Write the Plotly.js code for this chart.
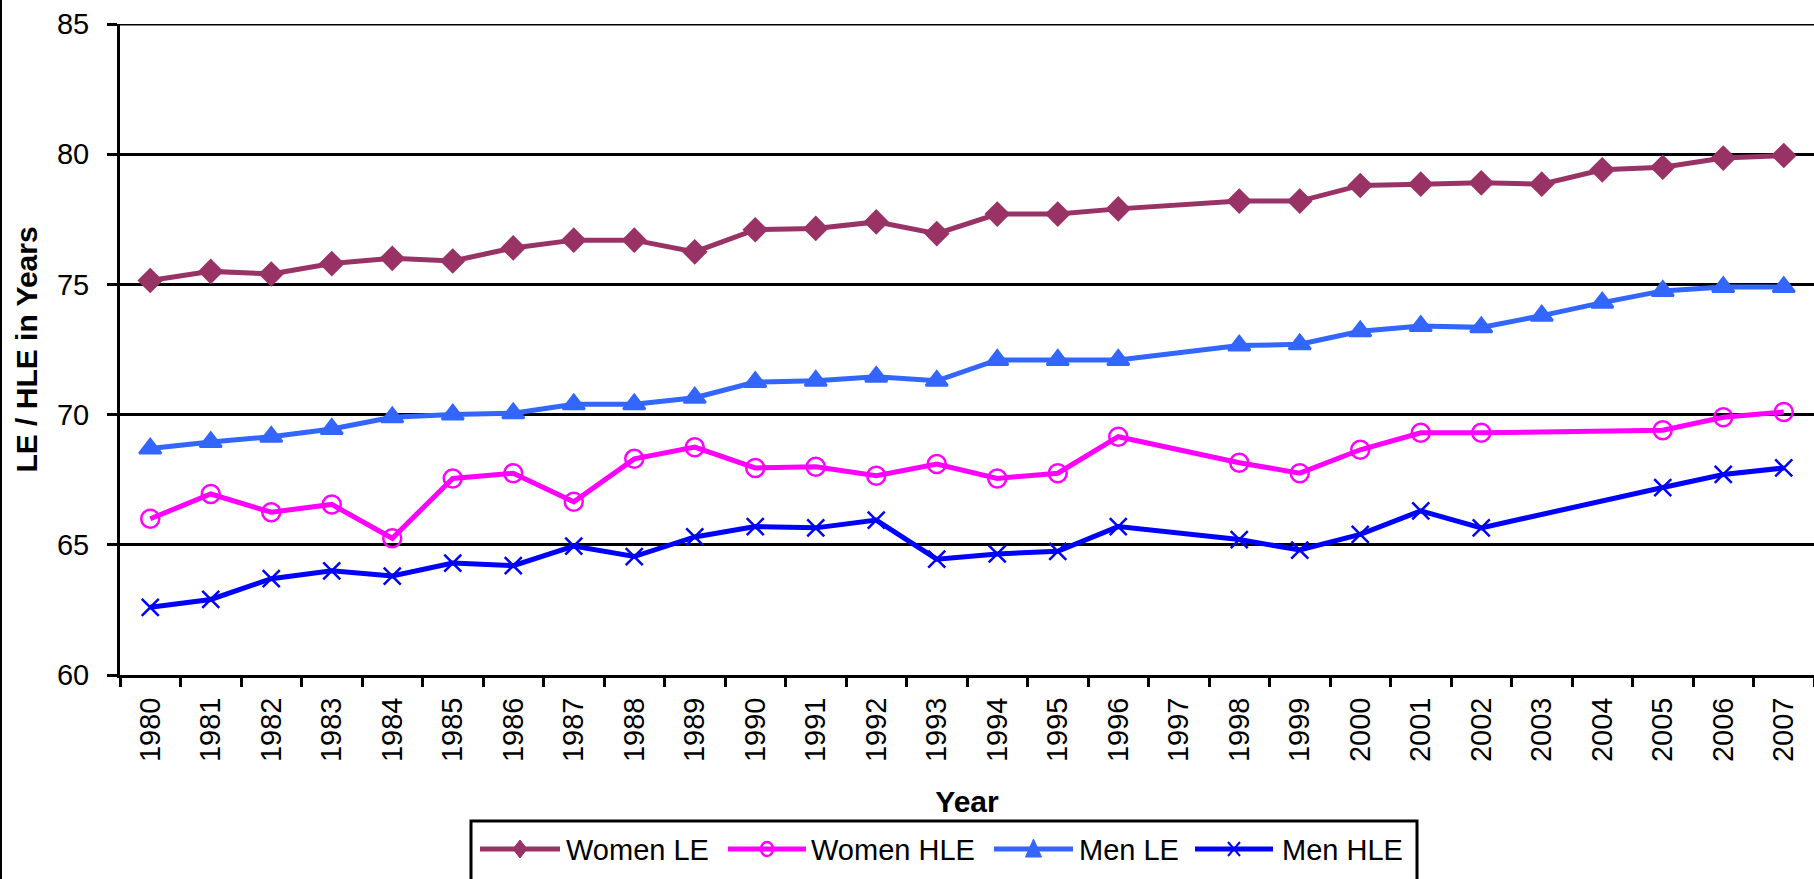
<!DOCTYPE html>
<html>
<head>
<meta charset="utf-8">
<script src="https://cdn.plot.ly/plotly-3.0.1.min.js"></script>
<style>
  html, body { margin: 0; padding: 0; background: #ffffff; }
  #chart { width: 1814px; height: 879px; }
</style>
</head>
<body>
<div id="chart"></div>
<script>
// ---- data ----
const years = ['1980','1981','1982','1983','1984','1985','1986','1987','1988','1989',
               '1990','1991','1992','1993','1994','1995','1996','1997','1998','1999',
               '2000','2001','2002','2003','2004','2005','2006','2007'];
const seriesNames = ['Women LE', 'Women HLE', 'Men LE', 'Men HLE'];
const womenLE  = [75.15, 75.5, 75.4, 75.8, 76.0, 75.9, 76.4, 76.7, 76.7, 76.25,
                  77.1, 77.15, 77.4, 76.95, 77.7, 77.7, 77.9, null, 78.2, 78.2,
                  78.8, 78.85, 78.9, 78.85, 79.4, 79.5, 79.85, 79.95];
const womenHLE = [66.0, 66.95, 66.25, 66.55, 65.25, 67.55, 67.75, 66.65, 68.3, 68.75,
                  67.95, 68.0, 67.65, 68.1, 67.55, 67.75, 69.15, null, 68.15, 67.75,
                  68.65, 69.3, 69.3, null, null, 69.4, 69.9, 70.1];
const menLE    = [68.7, 68.95, 69.15, 69.45, 69.9, 70.0, 70.05, 70.4, 70.4, 70.65,
                  71.25, 71.3, 71.45, 71.3, 72.1, 72.1, 72.1, null, 72.65, 72.7,
                  73.2, 73.4, 73.35, 73.8, 74.3, 74.75, 74.9, 74.9];
const menHLE   = [62.6, 62.9, 63.7, 64.0, 63.8, 64.3, 64.2, 64.95, 64.55, 65.3,
                  65.7, 65.65, 65.95, 64.45, 64.65, 64.75, 65.7, null, 65.2, 64.8,
                  65.4, 66.3, 65.65, null, null, 67.2, 67.7, 67.95];
const yTicks = [60, 65, 70, 75, 80, 85];
const xTitle = 'Year';
const yTitle = 'LE / HLE in Years';

// ---- styles ----
const values  = [womenLE, womenHLE, menLE, menHLE];
const colors  = ['#993366', '#FF00FF', '#3366FF', '#0000FF'];
const symbols = ['diamond', 'circle-open', 'triangle-up', 'x-thin-open'];
const msizes  = [17, 18, 19, 17];
const FONT = 'Arial, "Liberation Sans", sans-serif';

const traces = values.map((v, i) => ({
  type: 'scatter', mode: 'lines+markers', name: seriesNames[i],
  x: years, y: v, connectgaps: true, showlegend: false,
  line: { color: colors[i], width: 5 },
  marker: { symbol: symbols[i], size: msizes[i], color: colors[i],
            line: { color: colors[i], width: 2.5 } },
  cliponaxis: false
}));

// ---- geometry of the plot area (pixels) ----
const M = { l: 120, r: 0, t: 24, b: 204 };
const PW = 1814 - M.l - M.r, PH = 879 - M.t - M.b;
const xp = px => (px - M.l) / PW;
const yp = py => (879 - M.b - py) / PH;

// ---- hand-drawn legend (Excel style) ----
const legBox = { x0: 471, x1: 1417, y0: 821, y1: 900 };
const legY = 849;
const legItems = [ { s: 480, e: 560, t: 564 }, { s: 728, e: 806, t: 809 },
                   { s: 994, e: 1073, t: 1077 }, { s: 1195, e: 1273, t: 1280 } ];
const shapes = [
  // chart-area border on the left edge
  { type: 'line', xref: 'paper', yref: 'paper', x0: xp(1), x1: xp(1), y0: yp(0), y1: yp(879),
    line: { color: '#000', width: 2 } },
  // top gridline (at the range end, not drawn by Plotly itself)
  { type: 'line', xref: 'paper', yref: 'y', x0: 0, x1: 1, y0: yTicks[yTicks.length - 1],
    y1: yTicks[yTicks.length - 1], line: { color: '#000', width: 3 } },
  { type: 'rect', xref: 'paper', yref: 'paper', x0: xp(legBox.x0), x1: xp(legBox.x1),
    y0: yp(legBox.y0), y1: yp(legBox.y1), line: { color: '#000', width: 3 }, fillcolor: 'rgba(0,0,0,0)' }
];
const annotations = [];
legItems.forEach((it, i) => {
  shapes.push({ type: 'line', xref: 'paper', yref: 'paper', x0: xp(it.s), x1: xp(it.e),
    y0: yp(legY), y1: yp(legY), line: { color: colors[i], width: 5 } });
  const cx = xp((it.s + it.e) / 2), cy = yp(legY);
  const base = { xref: 'paper', yref: 'paper', xsizemode: 'pixel', ysizemode: 'pixel',
                 xanchor: cx, yanchor: cy };
  if (symbols[i] === 'diamond') {
    shapes.push(Object.assign({ type: 'path', path: 'M-7,0L0,9L7,0L0,-9Z',
      fillcolor: colors[i], line: { color: colors[i], width: 1 } }, base));
  } else if (symbols[i] === 'circle-open') {
    shapes.push(Object.assign({ type: 'circle', x0: -6, x1: 6, y0: -7, y1: 7,
      fillcolor: 'rgba(0,0,0,0)', line: { color: colors[i], width: 2.5 } }, base));
  } else if (symbols[i] === 'triangle-up') {
    shapes.push(Object.assign({ type: 'path', path: 'M-8,-8L8,-8L0,10Z',
      fillcolor: colors[i], line: { color: colors[i], width: 1 } }, base));
  } else {
    shapes.push(Object.assign({ type: 'path', path: 'M-6,-7L6,7M-6,7L6,-7',
      line: { color: colors[i], width: 2 } }, base));
  }
  annotations.push({ xref: 'paper', yref: 'paper', x: xp(it.t), y: yp(legY + 1),
    xanchor: 'left', yanchor: 'middle', showarrow: false, text: seriesNames[i],
    font: { family: FONT, size: 29, color: '#000' } });
});

const layout = {
  width: 1814, height: 879,
  margin: M,
  paper_bgcolor: '#ffffff', plot_bgcolor: '#ffffff',
  font: { family: FONT, size: 29, color: '#000' },
  showlegend: false,
  xaxis: {
    type: 'category', range: [-0.5, years.length - 0.5], tickson: 'boundaries',
    ticks: 'outside', ticklen: 9, tickwidth: 3, tickcolor: '#000',
    showline: true, linewidth: 3, linecolor: '#000', showgrid: false, zeroline: false,
    tickangle: -90, tickfont: { family: FONT, size: 29, color: '#000' }, ticklabelstandoff: 8,
    automargin: false,
    title: { text: xTitle, standoff: 30, font: { family: FONT, size: 30, color: '#000', weight: 'bold' } }
  },
  yaxis: {
    range: [60, 85], tickvals: yTicks, ticktext: yTicks.map(String),
    ticks: 'outside', ticklen: 10, tickwidth: 3, tickcolor: '#000',
    showline: true, linewidth: 3, linecolor: '#000',
    showgrid: true, gridcolor: '#000', gridwidth: 3, zeroline: false,
    tickfont: { family: FONT, size: 29, color: '#000' }, ticklabelstandoff: 12,
    automargin: false,
    title: { text: yTitle, standoff: 11, font: { family: FONT, size: 30, color: '#000', weight: 'bold' } }
  },
  shapes: shapes,
  annotations: annotations
};

Plotly.newPlot('chart', traces, layout, { displayModeBar: false, staticPlot: true });
</script>
</body>
</html>
